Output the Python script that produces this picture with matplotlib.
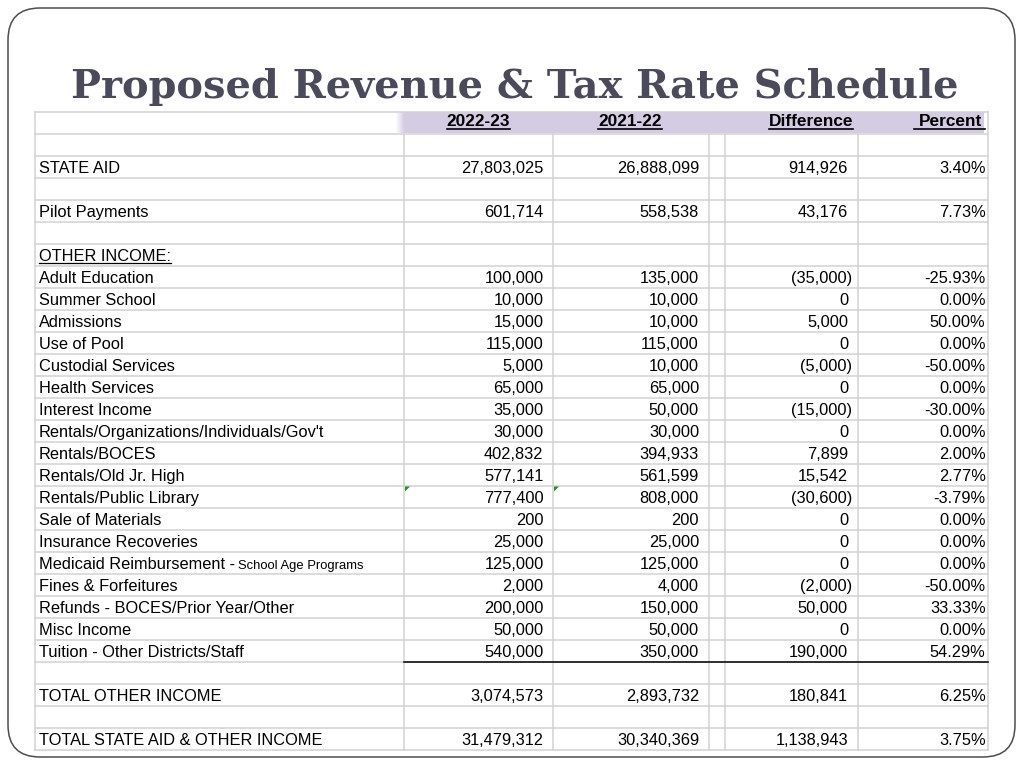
import matplotlib
matplotlib.use("Agg")
import matplotlib.pyplot as plt
from matplotlib.patches import FancyBboxPatch, Rectangle, Polygon

# ---------------- data ----------------
title = "Proposed Revenue & Tax Rate Schedule"
headers = ["2022-23", "2021-22", "Difference", " Percent "]

labels = [
    "", "STATE AID", "", "Pilot Payments", "", "OTHER INCOME:",
    "Adult Education", "Summer School", "Admissions", "Use of Pool",
    "Custodial Services", "Health Services", "Interest Income",
    "Rentals/Organizations/Individuals/Gov't", "Rentals/BOCES",
    "Rentals/Old Jr. High", "Rentals/Public Library", "Sale of Materials",
    "Insurance Recoveries", "Medicaid Reimbursement -", "Fines & Forfeitures",
    "Refunds - BOCES/Prior Year/Other", "Misc Income",
    "Tuition - Other Districts/Staff", "", "TOTAL OTHER INCOME", "",
    "TOTAL STATE AID & OTHER INCOME",
]
label_suffix = {19: "School Age Programs"}

budget_2022_23 = [None, 27803025, None, 601714, None, None,
                  100000, 10000, 15000, 115000, 5000, 65000, 35000, 30000,
                  402832, 577141, 777400, 200, 25000, 125000, 2000, 200000,
                  50000, 540000, None, 3074573, None, 31479312]
budget_2021_22 = [None, 26888099, None, 558538, None, None,
                  135000, 10000, 10000, 115000, 10000, 65000, 50000, 30000,
                  394933, 561599, 808000, 200, 25000, 125000, 4000, 150000,
                  50000, 350000, None, 2893732, None, 30340369]
difference = [None, 914926, None, 43176, None, None,
              -35000, 0, 5000, 0, -5000, 0, -15000, 0,
              7899, 15542, -30600, 0, 0, 0, -2000, 50000,
              0, 190000, None, 180841, None, 1138943]
percent = [None, 3.40, None, 7.73, None, None,
           -25.93, 0.00, 50.00, 0.00, -50.00, 0.00, -30.00, 0.00,
           2.00, 2.77, -3.79, 0.00, 0.00, 0.00, -50.00, 33.33,
           0.00, 54.29, None, 6.25, None, 3.75]

# ---------------- layout ----------------
W, H = 1024, 768
fig = plt.figure(figsize=(W / 100, H / 100), dpi=100)
ax = fig.add_axes([0, 0, 1, 1])
ax.set_xlim(0, W)
ax.set_ylim(H, 0)
ax.axis("off")

SANS = "Liberation Sans"
FS = 11.8
grid_c = "#d2d2d2"
table_left, table_right = 35, 988
col_x = [35, 404, 553, 709, 725, 858, 988]
top = 111.5
rh = 22.0
n_rows = 1 + len(labels)
bottom = top + rh * n_rows

# outer rounded frame
frame = FancyBboxPatch((8, 8), 1007, 749,
                       boxstyle="round,pad=0,rounding_size=32",
                       fc="white", ec="#4d4d4d", lw=1.1, zorder=0)
ax.add_patch(frame)

# header background
ax.add_patch(Rectangle((404, top), 580, rh - 0.5, fc="#d3cce3", ec="none", zorder=1))
for k in range(8):
    ax.add_patch(Rectangle((396 + k, top), 1, rh - 0.5, fc="#d3cce3",
                           alpha=(k + 1) / 9, ec="none", zorder=1))

# horizontal grid lines
for k in range(n_rows + 1):
    y = top + rh * k
    ax.plot([table_left, table_right], [y, y], color=grid_c, lw=1.1, zorder=2)
# vertical grid lines
for x in col_x:
    y0 = top if x in (table_left, table_right) else top + rh
    ax.plot([x, x], [y0, bottom], color=grid_c, lw=1.1, zorder=2)

# heavy rule under last detail line (Tuition row)
tuition_idx = labels.index("Tuition - Other Districts/Staff")
rule_y = top + rh * (tuition_idx + 2)
ax.plot([404, table_right], [rule_y, rule_y], color="black", lw=1.1, zorder=3)

# green comment markers
row_pl = top + rh * (labels.index("Rentals/Public Library") + 1)
for cx in (405, 554):
    ax.add_patch(Polygon([[cx, row_pl + 1], [cx + 5, row_pl + 1], [cx, row_pl + 6]],
                         closed=True, fc="#2e8b2e", ec="none", zorder=4))

# title
t = ax.text(515, 98, title, ha="center", va="baseline",
            fontfamily="DejaVu Serif", fontweight="bold", fontsize=30,
            color="#4a4a5a", zorder=5)
fig.canvas.draw()
r = fig.canvas.get_renderer()
bb = t.get_window_extent(r)
t.set_fontsize(30 * 886 / bb.width)

def underline(txt, extra_left=0, extra_right=0, dy=2.5, lw=1.0):
    fig.canvas.draw()
    b = txt.get_window_extent(fig.canvas.get_renderer())
    inv = ax.transData.inverted()
    (x0, _), (x1, _) = inv.transform([[b.x0, b.y0], [b.x1, b.y0]])
    yb = txt.get_position()[1] + dy
    ax.plot([x0 - extra_left, x1 + extra_right], [yb, yb], color="black", lw=lw, zorder=5)

# header
hb = top + 15
h1 = ax.text(478.5, hb, headers[0], ha="center", va="baseline", fontfamily=SANS,
             fontweight="bold", fontsize=12.4, zorder=5)
h2 = ax.text(630, hb, headers[1], ha="center", va="baseline", fontfamily=SANS,
             fontweight="bold", fontsize=12.4, zorder=5)
h3 = ax.text(853, hb, headers[2], ha="right", va="baseline", fontfamily=SANS,
             fontweight="bold", fontsize=12.4, zorder=5)
h4 = ax.text(982, hb, headers[3].strip(), ha="right", va="baseline", fontfamily=SANS,
             fontweight="bold", fontsize=12.4, zorder=5)
underline(h1, dy=2.5, lw=1.2)
underline(h2, dy=2.5, lw=1.2)
underline(h3, dy=2.5, lw=1.2)
underline(h4, extra_left=5, extra_right=3, dy=2.5, lw=1.2)

def fmt_num(v):
    return f"{v:,}"

def fmt_diff(v):
    return f"({abs(v):,})" if v < 0 else f"{v:,}"

for i, lab in enumerate(labels):
    yb = top + rh * (i + 1) + 17.3
    if lab:
        tl = ax.text(39, yb, lab, ha="left", va="baseline", fontfamily=SANS,
                     fontsize=FS, zorder=5)
        if lab.endswith(":"):
            underline(tl, dy=2.2, lw=0.9)
        if i in label_suffix:
            fig.canvas.draw()
            b = tl.get_window_extent(fig.canvas.get_renderer())
            xe = ax.transData.inverted().transform([[b.x1, b.y0]])[0][0]
            ax.text(xe + 3.5, yb, label_suffix[i], ha="left", va="baseline",
                    fontfamily=SANS, fontsize=9.4, zorder=5)
    if budget_2022_23[i] is not None:
        ax.text(543.5, yb, fmt_num(budget_2022_23[i]), ha="right", va="baseline",
                fontfamily=SANS, fontsize=FS, zorder=5)
    if budget_2021_22[i] is not None:
        ax.text(699, yb, fmt_num(budget_2021_22[i]), ha="right", va="baseline",
                fontfamily=SANS, fontsize=FS, zorder=5)
    if difference[i] is not None:
        d = difference[i]
        ax.text(852 if d < 0 else 848, yb, fmt_diff(d), ha="right", va="baseline",
                fontfamily=SANS, fontsize=FS, zorder=5)
    if percent[i] is not None:
        ax.text(985.5, yb, f"{percent[i]:.2f}%", ha="right", va="baseline",
                fontfamily=SANS, fontsize=FS, zorder=5)

fig.savefig("out.png", dpi=100, facecolor="white")
